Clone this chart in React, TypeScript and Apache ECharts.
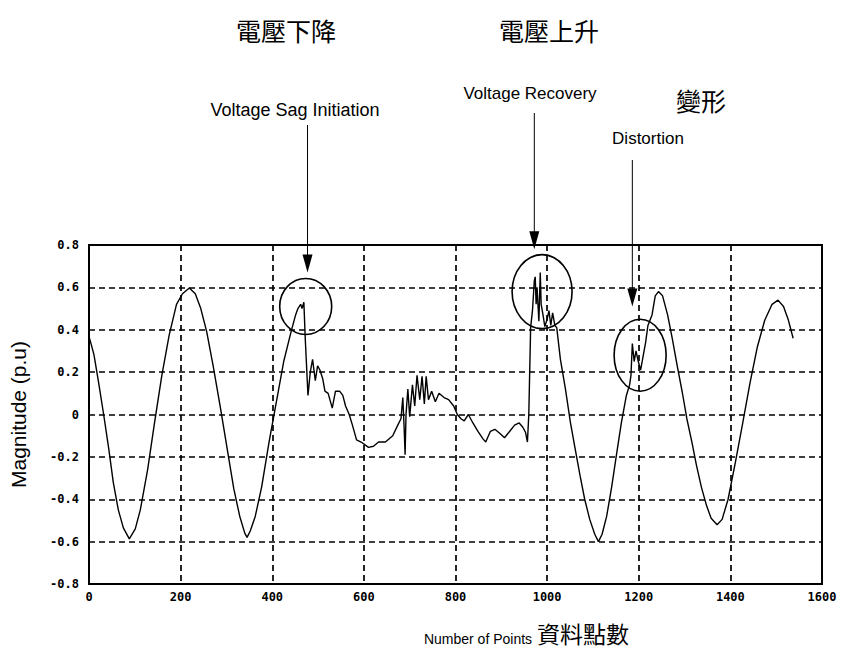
import { useEffect, useRef } from "react";
import * as echarts from "echarts";

// Sample index (Number of Points)
const pointIndex = [
  0, 5, 11, 21, 32, 43, 53, 64, 75, 88, 101, 112, 128, 143, 159, 175, 191, 204, 219, 232,
  244, 257, 271, 287, 303, 316, 329, 340, 345, 352, 363, 377, 393, 409, 425, 441, 451, 456, 462, 465,
  469, 472, 478, 483, 488, 494, 499, 504, 510, 515, 522, 531, 538, 547, 554, 560, 568, 575, 584, 594,
  610, 621, 632, 647, 663, 674, 681, 685, 688, 690, 692, 696, 700, 706, 711, 716, 722, 727, 732, 736,
  741, 748, 756, 764, 775, 785, 796, 804, 812, 819, 828, 838, 849, 860, 866, 876, 886, 897, 907, 918,
  929, 939, 947, 953, 957, 960, 964, 968, 972, 974, 976, 978, 982, 985, 987, 991, 995, 1000, 1004, 1008,
  1012, 1017, 1021, 1029, 1040, 1051, 1061, 1072, 1082, 1093, 1104, 1112, 1120, 1130, 1141, 1151, 1162, 1173, 1180, 1183,
  1186, 1190, 1194, 1199, 1204, 1210, 1215, 1220, 1229, 1236, 1243, 1252, 1263, 1273, 1284, 1295, 1305, 1316, 1326, 1337,
  1348, 1358, 1371, 1382, 1395, 1411, 1427, 1443, 1459, 1475, 1491, 1504, 1516, 1526, 1537,
];

// Magnitude (p.u) at each sample
const magnitude = [
  0.367, 0.33, 0.28, 0.15, 0.0, -0.16, -0.32, -0.45, -0.535, -0.587, -0.54, -0.45, -0.26, -0.04, 0.185, 0.375, 0.52, 0.57, 0.597, 0.57,
  0.5, 0.39, 0.23, 0.03, -0.18, -0.35, -0.48, -0.56, -0.58, -0.55, -0.48, -0.34, -0.13, 0.06, 0.25, 0.39, 0.47, 0.5, 0.52, 0.5,
  0.53, 0.36, 0.09, 0.2, 0.26, 0.16, 0.23, 0.21, 0.17, 0.11, 0.1, 0.03, 0.11, 0.11, 0.09, 0.04, 0.0, -0.05, -0.12, -0.13,
  -0.155, -0.15, -0.13, -0.13, -0.1, -0.05, -0.02, 0.08, -0.07, -0.19, 0.0, 0.12, -0.01, 0.14, 0.04, 0.185, 0.07, 0.18, 0.05, 0.18,
  0.07, 0.11, 0.06, 0.1, 0.08, 0.07, 0.04, 0.0, -0.02, -0.03, 0.0, -0.04, -0.08, -0.115, -0.13, -0.08, -0.07, -0.09, -0.11, -0.08,
  -0.05, -0.04, -0.06, -0.085, -0.13, 0.0, 0.41, 0.49, 0.63, 0.65, 0.52, 0.6, 0.44, 0.67, 0.52, 0.47, 0.415, 0.45, 0.49, 0.42,
  0.48, 0.42, 0.41, 0.26, 0.12, -0.04, -0.16, -0.29, -0.4, -0.495, -0.565, -0.6, -0.565, -0.48, -0.34, -0.195, -0.04, 0.09, 0.14, 0.185,
  0.335, 0.25, 0.3, 0.25, 0.21, 0.28, 0.34, 0.42, 0.47, 0.56, 0.58, 0.56, 0.47, 0.36, 0.23, 0.105, -0.02, -0.13, -0.24, -0.345,
  -0.43, -0.49, -0.52, -0.495, -0.4, -0.225, -0.04, 0.15, 0.32, 0.445, 0.52, 0.54, 0.51, 0.45, 0.36,
];

const xMin = 0;
const xMax = 1600;
const xStep = 200;
const yMin = -0.8;
const yMax = 0.8;
const yStep = 0.2;

const titles = ["電壓下降", "電壓上升"];
const eventLabels = ["Voltage Sag Initiation", "Voltage Recovery", "Distortion"];
const distortionZh = "變形";
const xNameEn = "Number of Points";
const xNameZh = "資料點數";
const yName = "Magnitude (p.u)";

// Annotated regions (data coordinates of the circled events and arrow tips)
const circleCenters = [
  [473, 0.51],
  [989, 0.58],
  [1203, 0.28],
];
const arrowTips = [
  [477, 0.67],
  [972, 0.78],
  [1186, 0.51],
];

const LATIN = "'Liberation Sans', Arial, sans-serif";
const CJK = "'Noto Sans CJK TC', 'Noto Sans CJK SC', sans-serif";
const TICK = "'DejaVu Sans Mono', monospace";

export default function App() {
  const ref = useRef<HTMLDivElement>(null);
  useEffect(() => {
    const chart = echarts.init(ref.current!, null, { renderer: "svg" });
    const seriesData = pointIndex.map((x, i) => [x, magnitude[i]]);
    const dashed = { show: true, lineStyle: { color: "#000", width: 1.7, type: [6, 4] } };
    chart.setOption({
      animation: false,
      backgroundColor: "#fff",
      grid: {
        left: 88,
        right: 20,
        top: 245,
        bottom: 72,
        show: true,
        borderColor: "#000",
        borderWidth: 2,
        backgroundColor: "transparent",
        z: 3,
      },
      xAxis: {
        type: "value",
        min: xMin,
        max: xMax,
        interval: xStep,
        axisLine: { show: false },
        axisTick: { show: false },
        splitLine: dashed,
        axisLabel: {
          color: "#000",
          fontFamily: TICK,
          fontWeight: "bold",
          fontSize: 12,
          margin: 7,
          formatter: (v: number) => String(Math.round(v)),
        },
      },
      yAxis: {
        type: "value",
        min: yMin,
        max: yMax,
        interval: yStep,
        axisLine: { show: false },
        axisTick: { show: false },
        splitLine: dashed,
        name: yName,
        nameLocation: "middle",
        nameGap: 60,
        nameTextStyle: { color: "#000", fontFamily: LATIN, fontSize: 21 },
        axisLabel: {
          color: "#000",
          fontFamily: TICK,
          fontWeight: "bold",
          fontSize: 12,
          margin: 10,
          formatter: (v: number) => (Math.abs(v) < 1e-9 ? "0" : v.toFixed(1)),
        },
      },
      series: [
        {
          type: "line",
          data: seriesData,
          showSymbol: false,
          lineStyle: { color: "#000", width: 1.4 },
          z: 4,
        },
      ],
    });

    const px = (p: number[]) => chart.convertToPixel({ gridIndex: 0 }, p) as number[];
    const radii = [
      [26, 28],
      [30, 37],
      [26, 36],
    ];
    const arrowTops = [125, 113, 160];
    const g: any[] = [];
    circleCenters.forEach((c, i) => {
      const [cx, cy] = px(c);
      g.push({
        type: "ellipse",
        shape: { cx, cy, rx: radii[i][0], ry: radii[i][1] },
        style: { fill: "none", stroke: "#000", lineWidth: 1.6 },
        z: 10,
      });
    });
    arrowTips.forEach((t, i) => {
      const [ax, ay] = px(t);
      g.push({
        type: "line",
        shape: { x1: ax, y1: arrowTops[i], x2: ax, y2: ay - 12 },
        style: { stroke: "#000", lineWidth: 1 },
        z: 10,
      });
      g.push({
        type: "polygon",
        shape: { points: [[ax - 5, ay - 18], [ax + 5, ay - 18], [ax, ay]] },
        style: { fill: "#000" },
        z: 10,
      });
    });
    const text = (s: string, x: number, y: number, font: string, size: number) => ({
      type: "text",
      x,
      y,
      style: {
        text: s,
        fill: "#000",
        fontFamily: font,
        fontSize: size,
        textAlign: "center",
        textVerticalAlign: "middle",
      },
      z: 10,
    });
    g.push(text(titles[0], 286, 30, CJK, 25));
    g.push(text(titles[1], 549, 30, CJK, 25));
    g.push(text(eventLabels[0], 295, 110, LATIN, 18));
    g.push(text(eventLabels[1], 530, 93, LATIN, 17));
    g.push(text(eventLabels[2], 648, 138, LATIN, 17));
    g.push(text(distortionZh, 701, 100, CJK, 25));
    g.push(text(xNameEn, 478, 639, LATIN, 14));
    g.push(text(xNameZh, 583, 633, CJK, 23));
    chart.setOption({ graphic: g });
    return () => chart.dispose();
  }, []);
  return (
    <div
      ref={ref}
      style={{ position: "fixed", left: 0, top: 0, width: 842, height: 656 }}
    />
  );
}
